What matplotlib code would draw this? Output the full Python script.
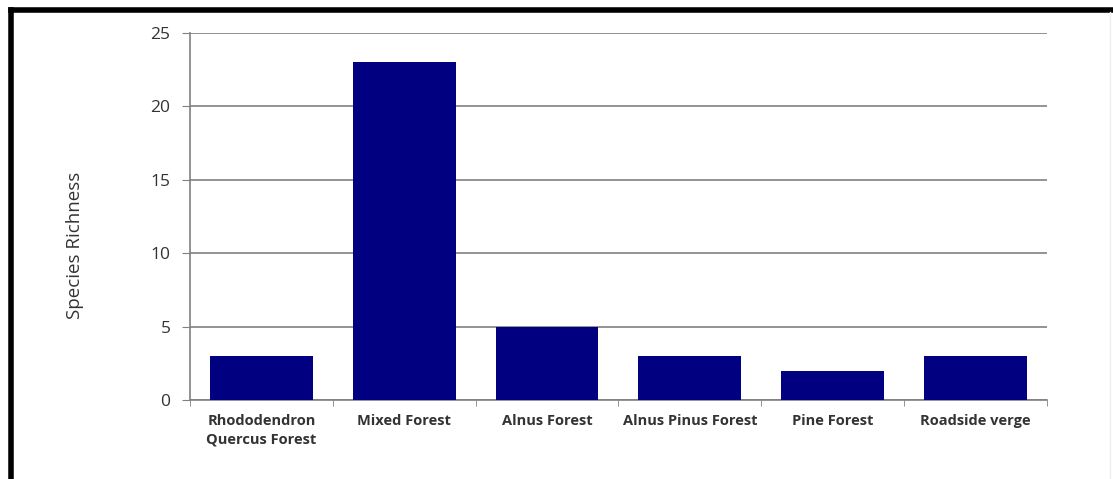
import matplotlib.pyplot as plt
from matplotlib.lines import Line2D

habitats = [
    "Rhododendron\nQuercus Forest",
    "Mixed Forest",
    "Alnus Forest",
    "Alnus Pinus Forest",
    "Pine Forest",
    "Roadside verge",
]
richness = [3, 23, 5, 3, 2, 3]
y_ticks = [0, 5, 10, 15, 20, 25]

plt.rcParams["font.family"] = ["Open Sans", "DejaVu Sans"]

fig = plt.figure(figsize=(11.13, 4.79), dpi=100)
ax = fig.add_axes([0.1707, 0.1649, 0.9407 - 0.1707, 0.9311 - 0.1649])

x = range(len(habitats))
ax.bar(x, richness, width=0.72, color="#000080", zorder=3)

ax.set_xlim(-0.5, len(habitats) - 0.5)
ax.set_ylim(0, 25)
ax.set_yticks(y_ticks)
ax.yaxis.grid(True, color="#808080", linewidth=1.2, zorder=0)

ax.set_xticks(list(x))
ax.set_xticklabels(habitats, fontsize=10.5, fontweight="bold", color="#333333",
                   linespacing=1.4, va="top")
ax.tick_params(axis="x", length=0, pad=10)
ax.set_xticks([i - 0.5 for i in range(len(habitats) + 1)], minor=True)
ax.tick_params(axis="x", which="minor", length=4, color="#808080")
ax.tick_params(axis="y", length=6, color="#808080", labelsize=12.5,
               labelcolor="#333333", pad=8)

for side in ["top", "right"]:
    ax.spines[side].set_visible(False)
for side in ["left", "bottom"]:
    ax.spines[side].set_color("#808080")
    ax.spines[side].set_linewidth(1.2)

fig.text(75 / 1113, 1 - 245 / 479, "Species Richness", rotation=90,
         ha="center", va="center", fontsize=13.5, color="#333333")

# outer frame: thick black top/left, faint right
fig.add_artist(Line2D([11 / 1113, 1.0], [1 - 10 / 479, 1 - 10 / 479],
                      transform=fig.transFigure, color="black", linewidth=4))
fig.add_artist(Line2D([11 / 1113, 11 / 1113], [0.0, 1 - 10 / 479],
                      transform=fig.transFigure, color="black", linewidth=4))
fig.add_artist(Line2D([1110 / 1113, 1110 / 1113], [0.0, 1 - 12 / 479],
                      transform=fig.transFigure, color="#eeeeee", linewidth=1))

fig.savefig("out.png", dpi=100)
plt.close(fig)
